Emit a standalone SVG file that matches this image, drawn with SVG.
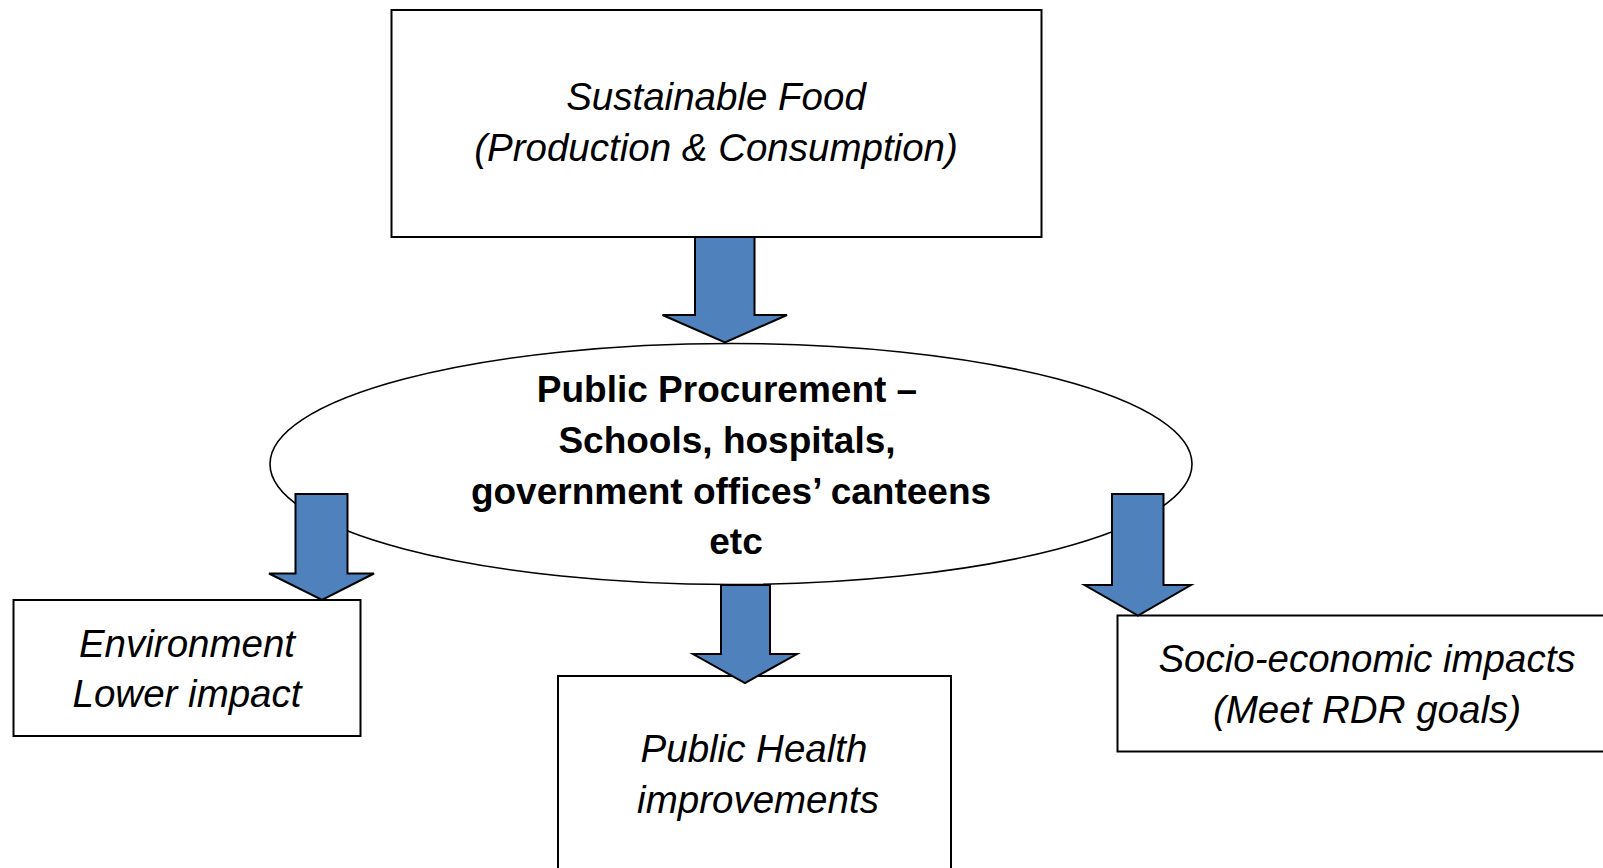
<svg xmlns="http://www.w3.org/2000/svg" width="1603" height="868" viewBox="0 0 1603 868">
<style>
.box{fill:#fff;stroke:#000;stroke-width:2}
.ell{fill:#fff;stroke:#000;stroke-width:1.6}
.arr{fill:#4F81BD;stroke:#000;stroke-width:2;stroke-linejoin:miter}
.it{font-family:"Liberation Sans",Arial,sans-serif;font-style:italic;font-size:38.5px;fill:#000;text-anchor:middle}
.bd{font-family:"Liberation Sans",Arial,sans-serif;font-weight:bold;font-size:37px;fill:#000;text-anchor:middle}
</style>
<rect width="1603" height="868" fill="#fff"/>
<g id="node-food">
<rect class="box" x="391.5" y="10" width="650" height="227"/>
<text class="it" x="716" y="110">Sustainable Food</text>
<text class="it" x="716" y="161">(Production &amp; Consumption)</text>
</g>
<g id="node-procurement">
<ellipse class="ell" cx="731" cy="464" rx="461" ry="120.5"/>
<text class="bd" x="727" y="402">Public Procurement –</text>
<text class="bd" x="727" y="453">Schools, hospitals,</text>
<text class="bd" x="731" y="504">government offices’ canteens</text>
<text class="bd" x="736" y="554">etc</text>
</g>
<g id="node-environment">
<rect class="box" x="13.5" y="600" width="347" height="136"/>
<text class="it" x="187" y="657">Environment</text>
<text class="it" x="187" y="707">Lower impact</text>
</g>
<g id="node-health">
<rect class="box" x="558" y="676" width="393" height="200"/>
<text class="it" x="754" y="762">Public Health</text>
<text class="it" x="758" y="813">improvements</text>
</g>
<g id="node-socio">
<rect class="box" x="1117.5" y="615.5" width="500" height="136"/>
<text class="it" x="1367" y="672">Socio-economic impacts</text>
<text class="it" x="1367" y="723">(Meet RDR goals)</text>
</g>
<g id="connectors">
<polygon class="arr" points="695,237 754.5,237 754.5,315 787,315 725,342.5 662.5,315 695,315"/>
<polygon class="arr" points="295.5,494 347.5,494 347.5,573.5 374,573.5 322,600 269,573.5 295.5,573.5"/>
<polygon class="arr" points="721,585 770,585 770,654 797,654 745,683 693,654 721,654"/>
<polygon class="arr" points="1112,494 1163.5,494 1163.5,585 1191,585 1138,615.5 1084.5,585 1112,585"/>
</g>
</svg>
